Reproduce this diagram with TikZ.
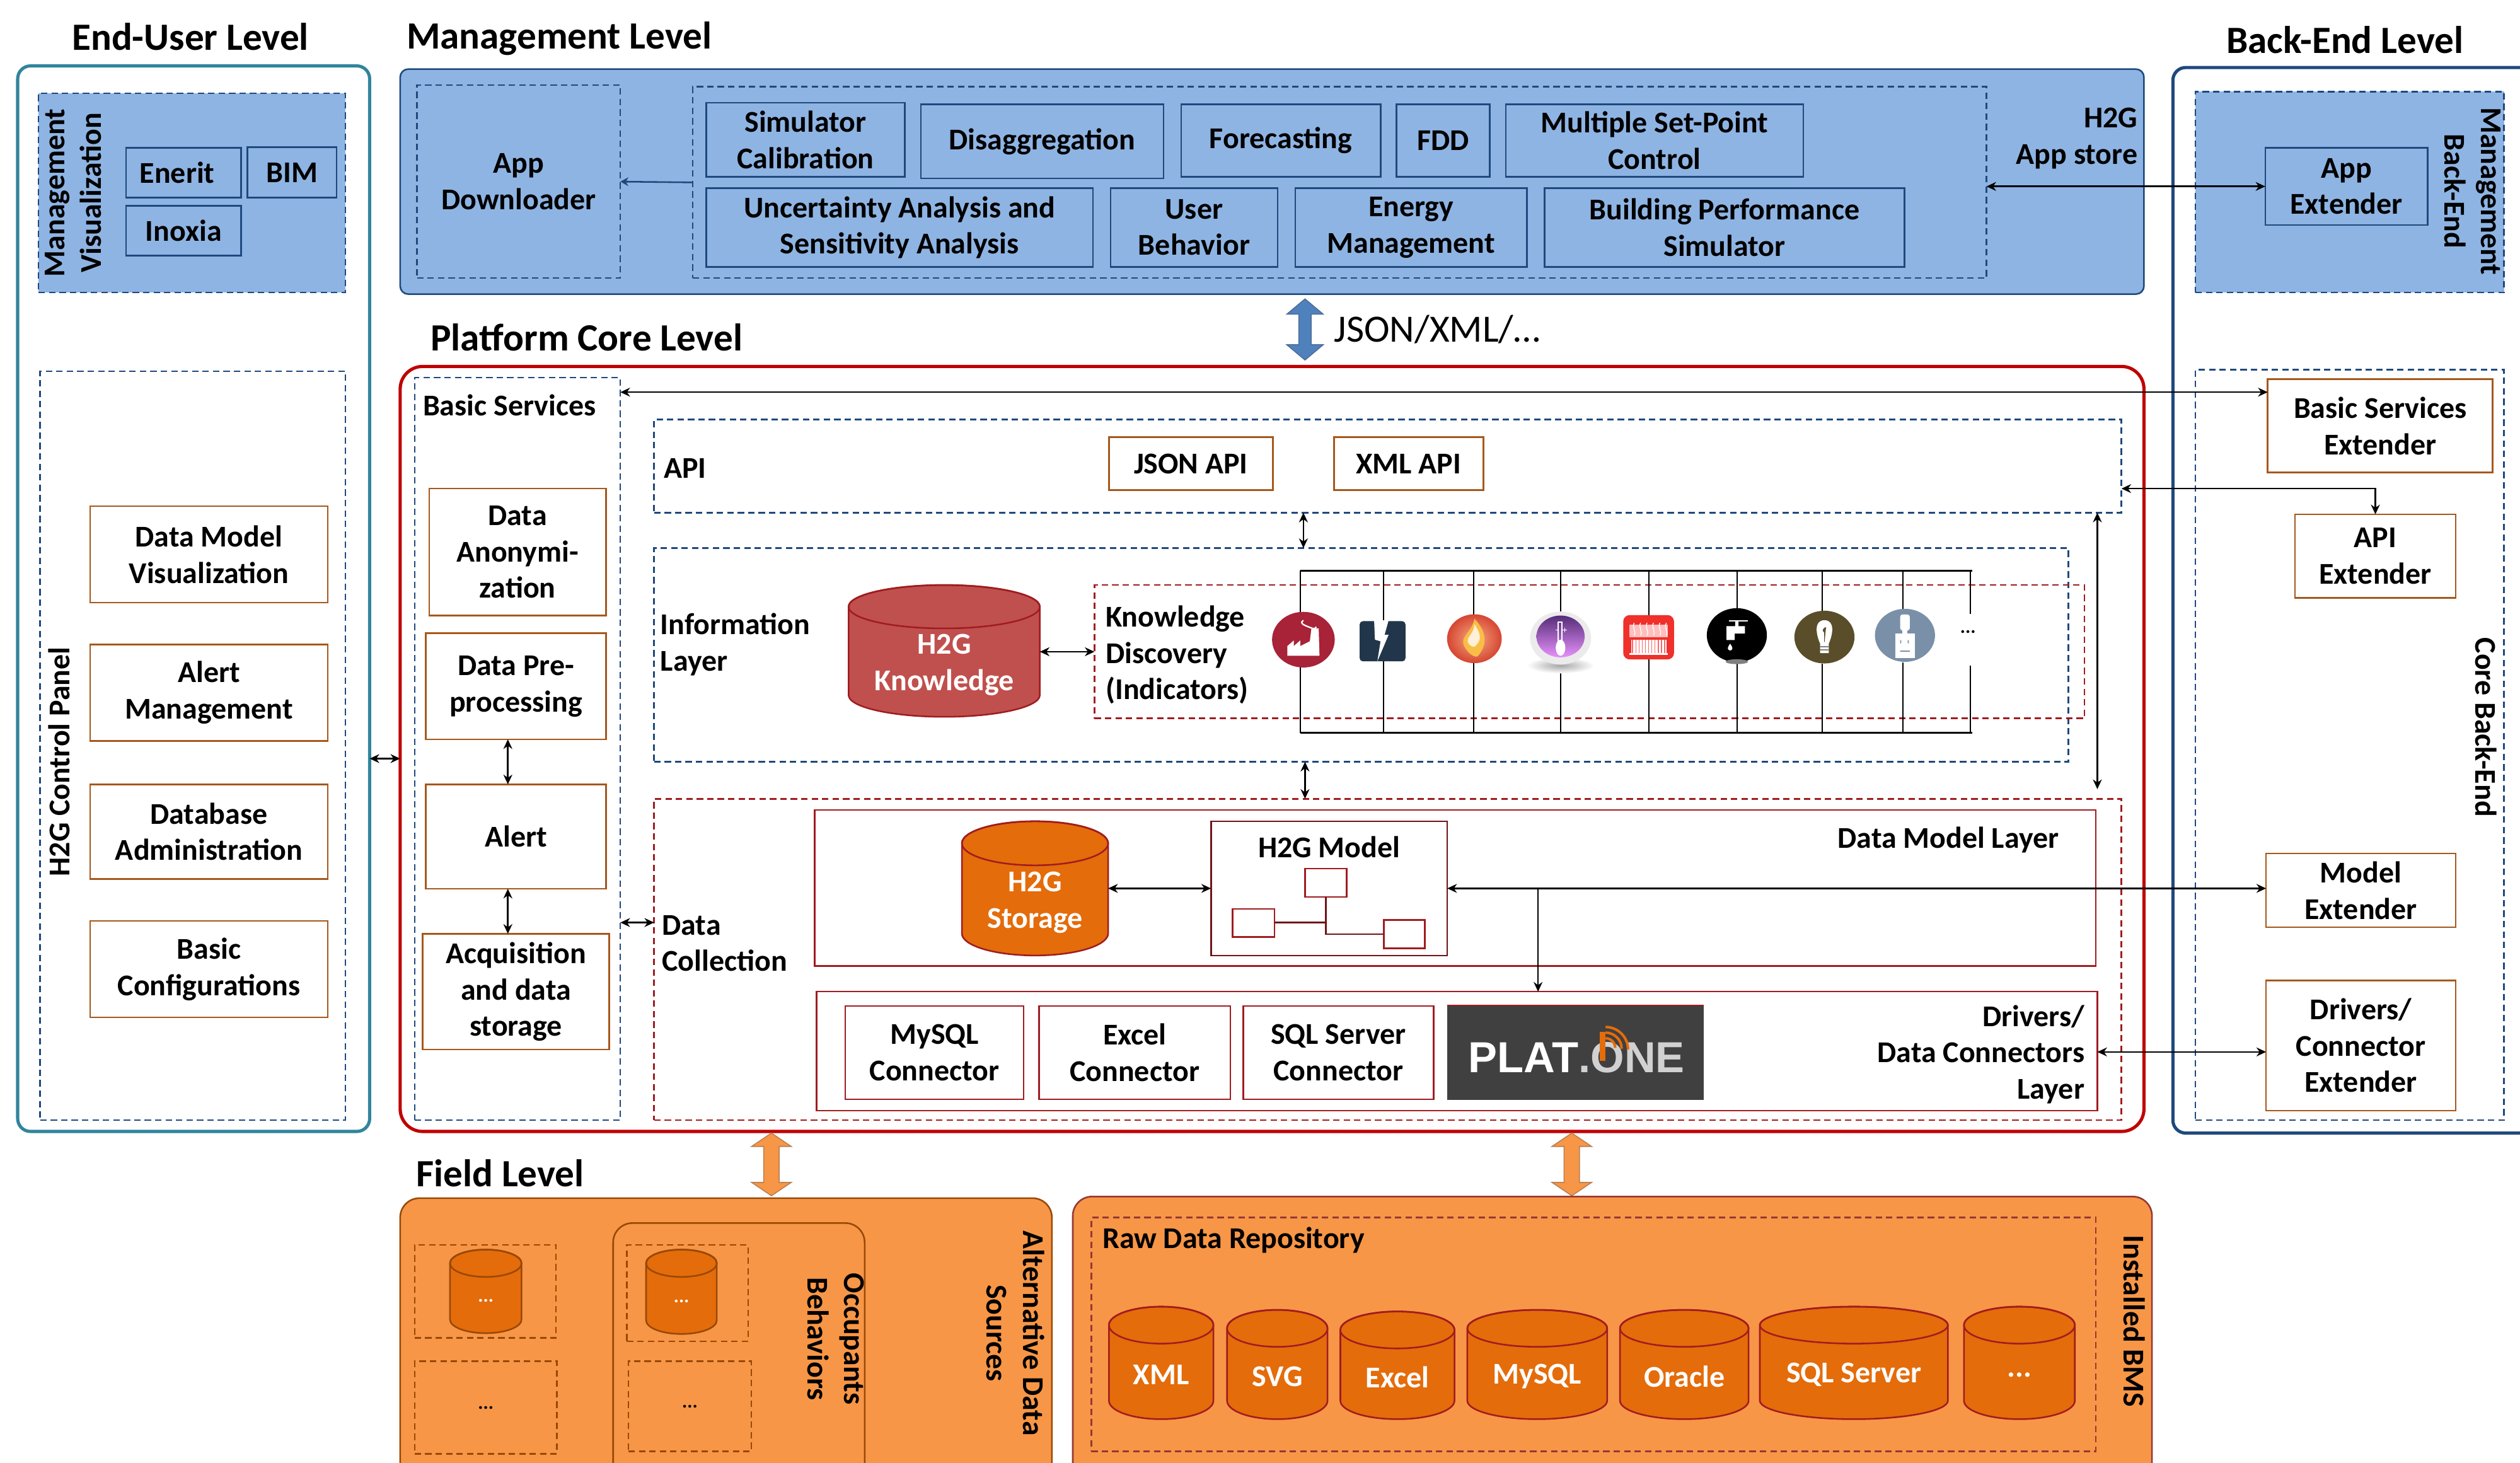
\documentclass[tikz,border=0pt]{standalone}
\usepackage{fontspec}
\setmainfont{Carlito}
\newfontfamily\platfont{Liberation Sans}
\usetikzlibrary{arrows.meta,shapes.arrows,calc}
\definecolor{navy}{HTML}{1F497D}
\definecolor{bluefill}{HTML}{8EB4E3}
\definecolor{teal}{HTML}{31859C}
\definecolor{corered}{HTML}{C00000}
\definecolor{dred}{HTML}{A01C20}
\definecolor{brownb}{HTML}{A5581C}
\definecolor{orfill}{HTML}{F79646}
\definecolor{ordark}{HTML}{E46C0A}
\definecolor{orline}{HTML}{984807}
\definecolor{rawline}{HTML}{953735}
\definecolor{knowfill}{HTML}{C0504D}
\newcommand{\rbox}[7]{%
  \pgfmathsetmacro\rbcx{(#3+#5)/2}\pgfmathsetmacro\rbcy{(#4+#6)/2}%
  \pgfmathsetmacro\rbw{#5-#3}\pgfmathsetmacro\rbh{#6-#4}%
  \node[#2,minimum width=\rbw pt,minimum height=\rbh pt] (#1) at (\rbcx,\rbcy) {#7};}
\newcommand{\cyl}[9]{%
  \pgfmathsetmacro\ccx{(#2+#4)/2}\pgfmathsetmacro\ccy{(#3+#5)/2}%
  \pgfmathsetmacro\crx{(#4-#2)/2}\pgfmathsetmacro\cw{#4-#2}\pgfmathsetmacro\ch{#5-#3}%
  \pgfmathsetmacro\ctop{#3+#6}\pgfmathsetmacro\cbot{#5-#6}\pgfmathsetmacro\ctxt{\ccy+0.58*#6+0.8}%
  \draw[fill=#7,draw=#8,line width=1pt] (#2,\ctop) -- (#2,\cbot)
     arc[start angle=180,end angle=0,x radius=\crx,y radius=#6] -- (#4,\ctop)
     arc[start angle=0,end angle=-180,x radius=\crx,y radius=#6] -- cycle;
  \draw[draw=#8,line width=1pt] (\ccx,\ctop) ellipse [x radius=\crx,y radius=#6];
  \node[minimum width=\cw pt,minimum height=\ch pt,inner sep=0pt,outer sep=0pt] (#1) at (\ccx,\ccy) {};
  \node[inner sep=0pt,align=center,text=white,lab] (#1-t) at (\ccx,\ctxt) {#9};}
\newcommand{\smalldots}{{\fontsize{12}{14}\selectfont ...}}
\tikzset{
  lab/.style={font=\fontsize{18.8}{22.6}\selectfont\bfseries,align=center,inner sep=0pt,outer sep=0pt},
  title/.style={font=\fontsize{24}{28}\selectfont\bfseries,inner sep=0pt,outer sep=0pt},
  bx/.style={lab,rectangle},
  bluebox/.style={bx,draw=navy,line width=1pt},
  brownbox/.style={bx,draw=brownb,line width=1pt},
  redbox/.style={bx,draw=dred,line width=1pt},
  dnavy/.style={bx,draw=navy,line width=1pt,dash pattern=on 4pt off 2.5pt},
  dnavyfill/.style={dnavy,fill=bluefill},
  dred/.style={bx,draw=dred,line width=1pt,dash pattern=on 4pt off 2.5pt},
  dor/.style={bx,draw=orline,line width=1pt,dash pattern=on 4pt off 2.5pt},
  draw2/.style={dor,draw=rawline},
  arr/.style={draw=black,line width=1pt,{Stealth[length=6pt,width=5.5pt]}-{Stealth[length=6pt,width=5.5pt]}},
  arrone/.style={draw=black,line width=1pt,-{Stealth[length=6pt,width=5.5pt]}},
  bus/.style={draw=black,line width=0.8pt},
  bigarrow/.style={double arrow,shape border rotate=90,outer sep=0pt,line width=0.6pt},
}
\begin{document}
\begin{tikzpicture}[x=1pt,y=-1pt]
\useasboundingbox (0,0) rectangle (1568,910);
\clip (0,0) rectangle (1568,910);
% titles
\node[title] (t1) at (118.5,23) {End-User Level};
\node[title,anchor=west] (t2) at (253,24) {Management Level};
\node[title,anchor=west] (t3) at (268,210) {Platform Core Level};
\node[title] (t4) at (1459,25) {Back-End Level};
\node[title,anchor=west] (t5) at (259,730) {Field Level};
\node[anchor=west,inner sep=0pt,font=\fontsize{24}{28}\selectfont] (t6) at (830,205) {JSON/XML/…};
% End user
\rbox{eu}{bx,draw=teal,line width=2pt,rounded corners=8pt}{11}{41}{230}{704}{}
\rbox{mv}{dnavyfill}{24}{58}{215}{182}{}
\node[lab,rotate=90] (mvt) at (45.5,120) {Management\\Visualization};
\rbox{en}{bluebox}{78.5}{92}{150}{123}{Enerit\hspace*{8pt}}
\rbox{bim}{bluebox}{154}{91.5}{209.5}{123}{BIM}
\rbox{ino}{bluebox}{78.5}{128}{150}{159}{Inoxia}
\rbox{cp}{dnavy}{25}{231}{215}{697}{}
\node[lab,rotate=90] (cpt) at (37,474) {H2G Control Panel};
\rbox{dmv}{brownbox}{56}{315}{204}{375}{Data Model\\Visualization}
\rbox{am}{brownbox}{56}{401}{204}{461}{Alert\\Management}
\rbox{da}{brownbox}{56}{488}{204}{547}{Database\\Administration}
\rbox{bc}{brownbox}{56}{573}{204}{633}{Basic\\Configurations}
% Management
\rbox{mg}{bx,draw=navy,fill=bluefill,line width=1pt,rounded corners=5pt}{249}{43}{1334}{183}{}
\rbox{ad}{dnavy}{259.5}{53}{386}{173}{App\\Downloader}
\rbox{grp}{dnavy}{431}{54}{1236}{173}{}
\rbox{b1}{bluebox}{439.5}{64}{563}{110}{Simulator\\Calibration}
\rbox{b2}{bluebox}{573}{65}{724}{111}{Disaggregation}
\rbox{b3}{bluebox}{735}{65}{859}{110}{Forecasting}
\rbox{b4}{bluebox}{869}{65}{927}{110}{FDD}
\rbox{b5}{bluebox}{937}{65}{1122}{110}{Multiple Set-Point\\Control}
\rbox{b6}{bluebox}{439.5}{117}{680}{166}{Uncertainty Analysis and\\Sensitivity Analysis}
\rbox{b7}{bluebox}{691}{117}{795}{166}{User\\Behavior}
\rbox{b8}{bluebox}{806}{117}{950}{166}{Energy\\Management}
\rbox{b9}{bluebox}{961}{117}{1185}{166}{Building Performance\\Simulator}
\node[lab,align=right,anchor=east] (as) at (1330,86) {H2G\\App store};
\draw[draw=navy,line width=1pt,-{Stealth[length=5pt,width=5.5pt]}] (grp.west) -- (ad.east);
% Back end
\rbox{be}{bx,draw=navy,line width=2pt,rounded corners=8pt}{1352}{42}{1600}{705}{}
\rbox{bm}{dnavyfill}{1366}{57}{1558}{182}{}
\rbox{ae}{bluebox}{1409.5}{92}{1510.5}{140}{App\\Extender}
\node[lab,rotate=-90] (bmt) at (1538.5,119) {Management\\Back-End};
\rbox{cb}{dnavy}{1366}{230}{1558}{697}{}
\node[lab,rotate=-90] (cbt) at (1547,452.5) {Core Back-End};
\rbox{bsx}{brownbox}{1411}{236}{1551}{294}{Basic Services\\Extender}
\rbox{apx}{brownbox}{1428}{320}{1528}{372}{API\\Extender}
\rbox{mx}{brownbox}{1410}{531}{1528}{577}{Model\\Extender}
\rbox{dx}{brownbox}{1410}{610}{1528}{691}{Drivers/\\Connector\\Extender}
% Core
\rbox{core}{bx,draw=corered,line width=2pt,rounded corners=14pt}{249}{228}{1334}{704}{}
\rbox{bs}{dnavy}{258}{235}{386}{697}{}
\node[lab] (bst) at (317,252) {Basic Services};
\rbox{s1}{brownbox}{267}{304}{377}{383}{Data\\Anonymi-\\zation}
\rbox{s2}{brownbox}{265}{394}{377}{460}{Data Pre-\\processing}
\rbox{s3}{brownbox}{265}{488}{377}{553}{Alert}
\rbox{s4}{brownbox}{263}{581}{379}{653}{Acquisition\\and data\\storage}
\rbox{api}{dnavy}{407}{261}{1320}{319}{}
\node[lab,anchor=west] (apit) at (413,291.5) {API};
\rbox{ja}{brownbox}{690}{272}{792}{305}{JSON API}
\rbox{xa}{brownbox}{830}{272}{923}{305}{XML API}
\rbox{il}{dnavy}{407}{341}{1287}{474}{}
\node[lab,anchor=west,align=left] (ilt) at (411,401) {Information\\Layer};
\rbox{kd}{dred}{681}{364}{1297}{447}{}
\node[lab,anchor=west,align=left] (kdt) at (688,407.5) {Knowledge\\Discovery\\(Indicators)};
\cyl{hk}{528}{364}{647}{446}{13.5}{knowfill}{dred}{H2G\\Knowledge}
\rbox{dc}{dred}{407}{497}{1320}{697}{}
\node[lab,anchor=west,align=left] (dct) at (412,587) {Data\\Collection};
\rbox{dml}{redbox}{507}{504}{1304}{601}{}
\node[lab,anchor=east] (dmlt) at (1281,522.5) {Data Model Layer};
\cyl{hs}{598.5}{511}{689.5}{594.5}{13.7}{ordark}{dred}{H2G\\Storage}
\rbox{hm}{redbox,draw=dred!70!black}{753.5}{511}{900.5}{594.5}{}
\node[lab] (hmt) at (827,527) {H2G Model};
\rbox{ma}{redbox}{812}{540.5}{838}{558}{}
\rbox{mb}{redbox}{767}{565.5}{793}{583}{}
\rbox{mc}{redbox}{861}{572.5}{886.5}{590}{}
\coordinate (mj) at (825,574);
\draw[draw=dred!70!black,line width=1pt] (ma.south -| mj) -- (mj |- mc.west) -- (mc.west) (mb.east |- mj) -- (mj);
\rbox{drv}{redbox}{508}{617}{1305}{691}{}
\node[lab,align=right,anchor=east] (drvt) at (1297,656) {Drivers/\\Data Connectors\\Layer};
\rbox{c1}{redbox}{526}{626}{637}{684}{MySQL\\Connector}
\rbox{c2}{redbox}{646.5}{626}{765.5}{684}{Excel\\Connector}
\rbox{c3}{redbox}{773.5}{626}{892}{684}{SQL Server\\Connector}
\rbox{pl}{bx,fill=black!75,draw=black!75}{900.5}{625.5}{1060}{684}{}
\draw[draw=dred,line width=1pt] (pl.north west) -- (pl.north east);
\node[inner sep=0pt,font=\fontsize{27}{29}\selectfont\platfont\bfseries,text=white] (plt) at (981,658) {PLAT\textcolor{black!18}{.ONE}};
\fill[ordark] (995.5,642) rectangle (999,660);
\draw[ordark,line width=1.6pt] (999,646) arc[start angle=-90,end angle=0,radius=6];
\draw[ordark,line width=1.6pt] (999,642.5) arc[start angle=-90,end angle=0,radius=10];
\draw[ordark,line width=1.6pt] (999,639) arc[start angle=-90,end angle=0,radius=14];
% bus
\coordinate (tl) at (809,355); \coordinate (tr) at (1227,355);
\coordinate (bl) at (809,456); \coordinate (br) at (1227,456);
\draw[bus,line width=1.2pt] (tl) -- (tr); \draw[bus,line width=1.2pt] (bl) -- (br);
\foreach \nm/\vx/\ta/\tb in {i1/809/382/415, i2/861/388/411, i3/917/383/412, i4/971/381/414, i5/1026/383/410, i6/1081/379/412, i7/1134/380/413, i8/1184/379/412, i9/1226/382/414}{
  \draw[bus] (\vx,355) -- (\vx,\ta);
  \draw[bus] (\vx,\tb) -- (\vx,456);
}
% icons
\begin{scope}[shift={(811,398)}]
 \fill[fill={rgb,255:red,168;green,34;blue,56}] (0,0) ellipse [x radius=19.5,y radius=17.3];
 \fill[white] (-10,10) -- (-10,4) -- (-6,0.5) -- (-6,4) -- (-2,0.5) -- (-2,4) -- (4,1) -- (5,-7) -- (9.5,-7) -- (10,10) -- cycle;
 \draw[white,line width=0.9pt] (0,-12) .. controls (-3,-10) and (1,-9) .. (3,-8) .. controls (6,-7) and (7,-6) .. (8,-8);
\end{scope}
\begin{scope}[shift={(860,399)}]
 \fill[fill={rgb,255:red,33;green,54;blue,74},rounded corners=2pt] (-14,-12.5) rectangle (14.5,12.5);
 \fill[white] (-5,-13) -- (4,-13) -- (1.5,-4) -- (4,-4) -- (-3,12.5) -- (-1,0) -- (-4.5,-1) -- cycle;
\end{scope}
\begin{scope}[shift={(917.4,397.4)}]
 \shade[outer color={rgb,255:red,214;green,70;blue,50},inner color={rgb,255:red,245;green,170;blue,130}] (0,0) ellipse [x radius=17,y radius=15.2];
 \fill[fill={rgb,255:red,250;green,190;blue,70}] (0,-12.5) .. controls (7,-5) and (9,3) .. (2,11) .. controls (-1,12.5) and (-8,5) .. (-7,1) .. controls (-6,-3) and (-1,-6) .. cycle;
 \fill[fill={rgb,255:red,255;green,240;blue,215}] (0,-9) .. controls (4,-3) and (5,1) .. (0,5) .. controls (-3,5) and (-5,2) .. (-4,0) .. controls (-3,-2) and (0,-5) .. cycle;
\end{scope}
\begin{scope}[shift={(971,397)}]
 \shade[inner color=black!35,outer color=white] (0,17) ellipse [x radius=21,y radius=5];
 \fill[black!8] (0,0) ellipse [x radius=19,y radius=16.5];
 \shade[top color={rgb,255:red,85;green,45;blue,120},bottom color={rgb,255:red,230;green,145;blue,250}] (0,-1) ellipse [x radius=15,y radius=13];
 \draw[white,line width=0.7pt] (-1.5,-10) rectangle (1,3);
 \fill[white] (0,6) ellipse [x radius=3,y radius=5];
 \draw[white,line width=0.5pt] (1,-5) -- (4,-5) (2.5,-6.5) -- (2.5,-3.5) (-3,-5) -- (-1,-5);
\end{scope}
\begin{scope}[shift={(1025.8,396.5)}]
 \fill[fill={rgb,255:red,240;green,48;blue,42},rounded corners=4pt] (-15.8,-13.8) rectangle (15.8,13.8);
 \fill[white!75!red] (-12,-8) -- (12,-8) -- (12,0) -- (-12,0) -- cycle;
 \foreach \vx in {-9,-5,-1,3,7,11}{\draw[white,line width=0.5pt] (\vx,-9) .. controls (\vx-1.5,-6) and (\vx+1.5,-4) .. (\vx,-1);}
 \fill[white] (-11,1.5) rectangle (11,10);
 \foreach \vx in {-10,-8,...,10}{\draw[red!60,line width=0.5pt] (\vx,1.5) -- (\vx,10);}
 \draw[white,line width=1pt] (-12,10.5) -- (12,10.5);
\end{scope}
\begin{scope}[shift={(1080.7,395.2)}]
 \fill[black] (0,0) ellipse [x radius=18.7,y radius=16.8];
 \fill[white] (-6.4,-5.6) rectangle (5,-1) (-6.4,-1) rectangle (-1.3,3) (-1,-8.5) rectangle (1,-5.6);
 \draw[white,line width=0.8pt] (-5,-8.8) -- (6.8,-8.8);
 \fill[white] (-4.2,5.3) .. controls (-2.6,7.5) and (-2,9) .. (-4.2,9.6) .. controls (-6.4,9) and (-5.8,7.5) .. cycle;
 \fill[black!50] (0,16.5) ellipse [x radius=7,y radius=1.5];
\end{scope}
\begin{scope}[shift={(1135.2,396.4)}]
 \fill[fill={rgb,255:red,90;green,77;blue,42}] (0,0) ellipse [x radius=18.7,y radius=16.4];
 \fill[white] (0,-10.5) .. controls (7,-10.5) and (5,-1) .. (2.7,4) -- (2.7,10) -- (-2.7,10) -- (-2.7,4) .. controls (-5,-1) and (-7,-10.5) .. (0,-10.5) -- cycle;
 \draw[fill={rgb,255:red,90;green,77;blue,42},draw={rgb,255:red,90;green,77;blue,42},line width=0.4pt] (0,3) -- (0,-3) .. controls (-2,-4) and (0,-6) .. (1,-6);
 \draw[black!50,line width=0.5pt] (-2.7,6) -- (2.7,6) (-2.7,8) -- (2.7,8);
\end{scope}
\begin{scope}[shift={(1185.3,395.3)}]
 \fill[fill={rgb,255:red,122;green,144;blue,168}] (0,0) ellipse [x radius=18.7,y radius=16.5];
 \fill[white,rounded corners=1.5pt] (-3,-13) rectangle (3,-3);
 \fill[white] (-1.5,-3) rectangle (1.5,-1);
 \fill[white] (-6,-1) rectangle (6,14);
 \fill[fill={rgb,255:red,122;green,144;blue,168}] (-3,3) rectangle (-2.3,5) (1.7,3) rectangle (2.4,5) (-3,9.5) rectangle (3,10.2);
\end{scope}
\node[inner sep=0pt,font=\bfseries] (more) at (1224.5,393) {\smalldots};
% connectors
\coordinate (ybs) at (0,244);
\draw[arr] (bs.east |- ybs) -- (bsx.west |- ybs);
\draw[arr] (grp.east |- ae.west) -- (ae.west);
\coordinate (yax) at (0,304);
\draw[arr] (api.east |- yax) -- (apx.north |- yax) -- (apx.north);
\coordinate (vb) at (1305,491);
\draw[arr] (api.south -| vb) -- (vb);
\coordinate (x1) at (811,0);
\draw[arr] (api.south -| x1) -- (il.north -| x1);
\coordinate (x2) at (812,0);
\draw[arr] (il.south -| x2) -- (dc.north -| x2);
\draw[arr] (hk.east |- kd.west) -- (kd.west);
\draw[arr] (hs.east |- hm.west) -- (hm.west);
\draw[arr] (hm.east) -- (hm.east -| mx.west);
\coordinate (xb) at (957,553);
\draw[arrone] (xb) -- (drv.north -| xb);
\coordinate (yd2) at (0,654.5);
\draw[arr] (drv.east |- yd2) -- (dx.west |- yd2);
\coordinate (yl) at (0,472);
\draw[arr] (eu.east |- yl) -- (core.west |- yl);
\coordinate (yd) at (0,574);
\draw[arr] (bs.east |- yd) -- (dc.west |- yd);
\coordinate (xs) at (316,0);
\draw[arr] (s2.south -| xs) -- (s3.north -| xs);
\draw[arr] (s3.south -| xs) -- (s4.north -| xs);
% Big arrows
\node[bigarrow,draw=navy!80!white,fill={rgb,255:red,79;green,129;blue,189},inner sep=3.5pt,minimum height=38pt,double arrow head extend=7.5pt,double arrow tip angle=100] (ba1) at (812,205) {};
\node[bigarrow,draw=orline!70!white,fill=orfill,inner sep=4.5pt,minimum height=39pt,double arrow head extend=7.5pt,double arrow tip angle=112] (ba2) at (480,724.5) {};
\node[bigarrow,draw=orline!70!white,fill=orfill,inner sep=4.5pt,minimum height=39pt,double arrow head extend=7.5pt,double arrow tip angle=112] (ba3) at (978,724.5) {};
% Field level
\rbox{alt}{bx,draw=orline,fill=orfill,line width=1pt,rounded corners=12pt}{249}{745.5}{654.5}{940}{}
\rbox{occ}{bx,draw=orline,line width=1pt,rounded corners=12pt}{381.5}{761}{538}{940}{}
\rbox{f1}{dor}{258}{774.5}{346}{832.5}{}
\rbox{f2}{dor}{258}{847}{346.5}{904.5}{\smalldots}
\rbox{f3}{dor}{390}{774.5}{465.5}{834.5}{}
\rbox{f4}{dor}{391}{847}{467.5}{903}{\smalldots}
\cyl{fc1}{280}{777.5}{324.5}{829.5}{8.5}{ordark}{orline}{\smalldots}
\cyl{fc2}{402}{777.5}{446}{830}{8.5}{ordark}{orline}{\smalldots}
\node[lab,rotate=-90] (occt) at (520,833) {Occupants\\Behaviors};
\node[lab,rotate=-90] (altt) at (632,829.5) {Alternative Data\\Sources};
\rbox{raw}{bx,draw=rawline,fill=orfill,line width=1pt,rounded corners=12pt}{667.5}{744.5}{1339}{940}{}
\rbox{rd}{draw2}{679}{757.5}{1304}{903}{}
\node[lab,anchor=west] (rdt) at (686,771.5) {Raw Data Repository};
\node[lab,rotate=-90] (bmst) at (1328,822) {Installed BMS};
\cyl{r1}{690}{813}{755}{883}{11.5}{ordark}{dred}{XML}
\cyl{r2}{763.5}{815}{826}{883}{11.5}{ordark}{dred}{SVG}
\cyl{r3}{834}{816}{905}{883}{11.5}{ordark}{dred}{Excel}
\cyl{r4}{913}{815}{1000}{883}{11.5}{ordark}{dred}{MySQL}
\cyl{r5}{1008}{815}{1088}{883}{11.5}{ordark}{dred}{Oracle}
\cyl{r6}{1095}{813}{1212}{883}{11.5}{ordark}{dred}{SQL Server}
\cyl{r7}{1222}{813}{1291}{883}{11.5}{ordark}{dred}{...}
\end{tikzpicture}
\end{document}
